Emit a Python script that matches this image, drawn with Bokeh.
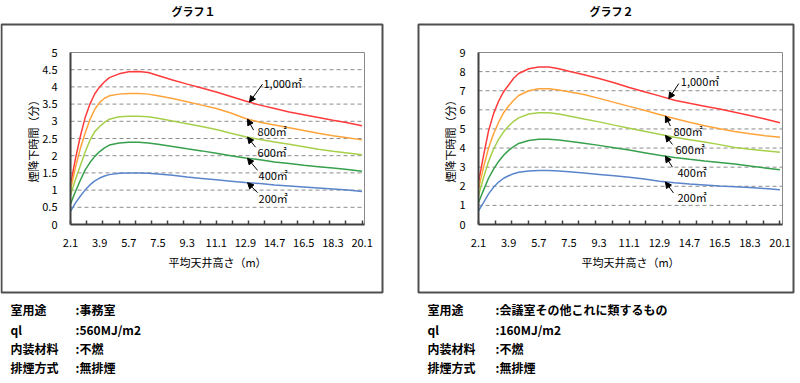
import numpy as np
from bokeh.plotting import figure
from bokeh.models import (Range1d, FixedTicker, CustomJSTickFormatter, Label, Arrow,
                          NormalHead, BoxAnnotation, ColumnDataSource, LinearAxis)
from bokeh.layouts import row
from bokeh.embed import file_html
from bokeh.resources import INLINE

# ---------------- data ----------------
heights = [2.1, 2.4, 2.7, 3.0, 3.3, 3.6, 3.9, 4.2, 4.5, 5.1, 5.7, 6.3, 6.9, 7.5,
           8.4, 9.3, 10.2, 11.1, 12.0, 12.9, 13.8, 14.7, 15.6, 16.5, 17.4, 18.3, 19.2, 20.1]

area_labels = ["1,000㎡", "800㎡", "600㎡", "400㎡", "200㎡"]
line_colors = ["#ff3b3b", "#ffa33a", "#a5d04a", "#37a04c", "#5a85cc"]

# Graph 1 (office, 560MJ/m2)
g1_1000 = [1.15, 1.9, 2.55, 3.1, 3.5, 3.8, 4.0, 4.15, 4.27, 4.38, 4.44, 4.45, 4.42, 4.33,
           4.2, 4.08, 3.97, 3.85, 3.72, 3.59, 3.47, 3.37, 3.27, 3.19, 3.11, 3.03, 2.96, 2.87]
g1_800 = [1.0, 1.65, 2.2, 2.65, 3.05, 3.35, 3.55, 3.67, 3.74, 3.79, 3.81, 3.81, 3.79, 3.74,
          3.66, 3.57, 3.47, 3.37, 3.24, 3.08, 2.97, 2.89, 2.81, 2.73, 2.65, 2.58, 2.52, 2.46]
g1_600 = [0.85, 1.3, 1.7, 2.1, 2.45, 2.7, 2.85, 2.97, 3.06, 3.13, 3.15, 3.15, 3.13, 3.09,
          3.01, 2.93, 2.85, 2.76, 2.65, 2.55, 2.47, 2.40, 2.33, 2.26, 2.19, 2.13, 2.08, 2.03]
g1_400 = [0.6, 0.95, 1.28, 1.58, 1.8, 1.98, 2.12, 2.23, 2.31, 2.37, 2.39, 2.39, 2.37, 2.33,
          2.27, 2.2, 2.14, 2.07, 2.0, 1.93, 1.88, 1.82, 1.77, 1.72, 1.68, 1.64, 1.6, 1.55]
g1_200 = [0.38, 0.62, 0.82, 1.0, 1.15, 1.27, 1.35, 1.41, 1.45, 1.49, 1.5, 1.5, 1.49, 1.47,
          1.43, 1.38, 1.34, 1.3, 1.26, 1.22, 1.19, 1.15, 1.12, 1.09, 1.06, 1.03, 1.0, 0.96]

# Graph 2 (meeting room, 160MJ/m2)
g2_1000 = [2.2, 3.6, 4.9, 5.8, 6.45, 6.95, 7.3, 7.65, 7.9, 8.15, 8.24, 8.24, 8.15, 8.02,
           7.84, 7.64, 7.42, 7.17, 6.95, 6.73, 6.5, 6.34, 6.19, 6.04, 5.87, 5.7, 5.52, 5.32]
g2_800 = [1.85, 3.0, 4.0, 4.75, 5.35, 5.85, 6.2, 6.5, 6.75, 7.0, 7.1, 7.1, 7.04, 6.95,
          6.8, 6.6, 6.39, 6.18, 5.98, 5.76, 5.55, 5.35, 5.17, 5.01, 4.87, 4.75, 4.65, 4.56]
g2_600 = [1.5, 2.45, 3.3, 3.95, 4.45, 4.85, 5.15, 5.4, 5.58, 5.78, 5.85, 5.85, 5.78, 5.68,
          5.52, 5.37, 5.2, 5.04, 4.88, 4.72, 4.57, 4.44, 4.32, 4.18, 4.03, 3.94, 3.86, 3.78]
g2_400 = [1.15, 1.8, 2.42, 2.9, 3.3, 3.62, 3.88, 4.08, 4.24, 4.4, 4.46, 4.46, 4.42, 4.35,
          4.25, 4.14, 4.02, 3.9, 3.76, 3.62, 3.51, 3.41, 3.32, 3.24, 3.16, 3.06, 2.96, 2.86]
g2_200 = [0.72, 1.15, 1.6, 1.95, 2.22, 2.42, 2.55, 2.66, 2.73, 2.8, 2.83, 2.83, 2.8, 2.76,
          2.69, 2.62, 2.55, 2.47, 2.38, 2.26, 2.18, 2.12, 2.07, 2.02, 1.98, 1.93, 1.88, 1.82]

x_label_ticks = [2.1, 3.9, 5.7, 7.5, 9.3, 11.1, 12.9, 14.7, 16.5, 18.3, 20.1]
x_mark_ticks = [2.1, 3.1, 4.1, 5.1, 6.1, 7.1, 8.1, 9.1, 10.1, 11.1, 12.1, 13.1, 14.1,
                15.1, 16.1, 17.1, 18.1, 19.1, 20.1]
y1_ticks = [0, 0.5, 1, 1.5, 2, 2.5, 3, 3.5, 4, 4.5, 5]
y2_ticks = [0, 1, 2, 3, 4, 5, 6, 7, 8, 9]

titles = ["グラフ１", "グラフ２"]
x_title = "平均天井高さ（m）"
y_title = "煙降下時間（分）"
info_keys = ["室用途", "ql", "内装材料", "排煙方式"]
info1_vals = [":事務室", ":560MJ/m2", ":不燃", ":無排煙"]
info2_vals = [":会議室その他これに類するもの", ":160MJ/m2", ":不燃", ":無排煙"]

# ---------------- layout constants (pixel coords of the page) ----------------
FONT = "Noto Sans CJK JP"
X_START, X_END = 2.1, 20.25
FRAME_TOP, FRAME_BOTTOM = 52, 224
FRAME_H = FRAME_BOTTOM - FRAME_TOP
FIG_W, FIG_H = 400, 383


def build(series, ymax, yticks, fig_left, plot_left, plot_w, title, title_cx,
          box, info_vals, info_kx, info_vx, tip_x, tail_off, text_off):
    xpp = (X_END - X_START) / plot_w
    ypp = ymax / FRAME_H

    def X(px):
        return X_START + (px - plot_left) * xpp

    def Y(py):
        return (FRAME_BOTTOM - py) * ypp

    p = figure(width=FIG_W, height=FIG_H, min_border=0,
               min_border_left=0, min_border_right=0, min_border_top=0, min_border_bottom=0,
               x_range=Range1d(X(fig_left), X(fig_left + FIG_W)),
               y_range=Range1d(Y(FIG_H), Y(0)),
               x_axis_type=None, y_axis_type=None,
               output_backend="svg", toolbar_location=None, title=None)
    p.background_fill_color = "white"
    p.border_fill_color = "white"
    p.outline_line_color = None
    p.xgrid.visible = False
    p.ygrid.visible = False

    # outer chart box
    bl, br, bt, bb = box
    p.add_layout(BoxAnnotation(left=X(bl), right=X(br), top=Y(bt), bottom=Y(bb),
                               fill_color=None, fill_alpha=0, line_color="#4f4f4f",
                               line_alpha=1.0, line_width=2, level="underlay"))
    # plot area border
    p.add_layout(BoxAnnotation(left=X_START, right=X_END, bottom=0, top=ymax,
                               fill_color=None, fill_alpha=0, line_color="#8a8a8a",
                               line_alpha=1.0, line_width=1, level="underlay"))

    # dashed horizontal gridlines at the inner y ticks
    grid_vals = yticks[1:-1]
    p.segment(x0=[X_START] * len(grid_vals), x1=[X_END] * len(grid_vals),
              y0=grid_vals, y1=grid_vals, line_color="#8c8c8c", line_width=1,
              line_dash="4 3")

    src = ColumnDataSource(dict(x=heights, **{f"s{i}": s for i, s in enumerate(series)}))
    for i, c in enumerate(line_colors):
        p.line("x", f"s{i}", source=src, line_color=c, line_width=1.5)

    # axes
    xaxis = LinearAxis(fixed_location=0, bounds=(X_START, X_END),
                       ticker=FixedTicker(ticks=x_label_ticks, minor_ticks=x_mark_ticks),
                       formatter=CustomJSTickFormatter(code="return tick.toFixed(1);"))
    yaxis = LinearAxis(fixed_location=X_START, bounds=(0, ymax),
                       ticker=FixedTicker(ticks=yticks),
                       formatter=CustomJSTickFormatter(
                           code="return String(Math.round(tick*10)/10);"))
    for ax in (xaxis, yaxis):
        ax.axis_line_color = "#404040"
        ax.axis_line_width = 2
        ax.major_tick_in = 0
        ax.major_tick_out = 0
        ax.major_label_text_font = FONT
        ax.major_label_text_font_size = "11px"
        ax.major_label_text_color = "black"
        ax.axis_label_text_font = FONT
        ax.axis_label_text_font_size = "11px"
        ax.axis_label_text_font_style = "normal"
        ax.axis_label_text_color = "black"
    xaxis.minor_tick_in = 4
    xaxis.minor_tick_out = 0
    xaxis.minor_tick_line_color = "#404040"
    xaxis.minor_tick_line_width = 1.5
    yaxis.minor_tick_line_color = None
    xaxis.major_label_standoff = 14
    yaxis.major_label_standoff = 13
    xaxis.axis_label = x_title
    yaxis.axis_label = y_title
    xaxis.axis_label_standoff = 4
    yaxis.axis_label_standoff = -2
    p.add_layout(xaxis, "below")
    p.add_layout(yaxis, "left")

    # title
    p.add_layout(Label(x=X(title_cx), y=Y(10), text=title, text_font=FONT,
                       text_font_size="11px", text_font_style="bold",
                       text_align="center", text_baseline="middle", text_color="black"))

    # area annotations with arrows
    for i, s in enumerate(series):
        tx = tip_x[i]
        ty = float(np.interp(tx, heights, s))
        ax_, ay_ = tail_off[i]
        lx, ly = text_off[i]
        p.add_layout(Arrow(x_start=tx + ax_ * xpp, y_start=ty - ay_ * ypp,
                           x_end=tx, y_end=ty, line_color="black", line_width=1,
                           end=NormalHead(size=6, line_color="black", fill_color="black",
                                          line_width=1)))
        p.add_layout(Label(x=tx + lx * xpp, y=ty - ly * ypp, text=area_labels[i],
                           text_font=FONT, text_font_size="11px", text_align="left",
                           text_baseline="middle", text_color="black"))

    # info text under the chart
    rows_y = [309, 329, 348, 367]
    for k, v, ry in zip(info_keys, info_vals, rows_y):
        p.add_layout(Label(x=X(info_kx), y=Y(ry), text=k, text_font=FONT,
                           text_font_size="12px", text_font_style="bold",
                           text_align="left", text_baseline="middle", text_color="black"))
        p.add_layout(Label(x=X(info_vx), y=Y(ry), text=v, text_font=FONT,
                           text_font_size="12px", text_font_style="bold",
                           text_align="left", text_baseline="middle", text_color="black"))
    return p


p1 = build([g1_1000, g1_800, g1_600, g1_400, g1_200], 5, y1_ticks,
           fig_left=0, plot_left=70, plot_w=294, title=titles[0], title_cx=193,
           box=(1, 382, 24, 292), info_vals=info1_vals, info_kx=10, info_vx=75,
           tip_x=[13.15, 13.03, 13.03, 13.03, 13.03],
           tail_off=[(13, -18), (6, 11), (8, 10), (10, 12), (10, 10)],
           text_off=[(14, -19), (10, 12), (10, 15), (11, 17), (11, 15)])

p2 = build([g2_1000, g2_800, g2_600, g2_400, g2_200], 9, y2_ticks,
           fig_left=400, plot_left=478, plot_w=304, title=titles[1], title_cx=611,
           box=(418, 793, 24, 292), info_vals=info2_vals, info_kx=427, info_vx=495,
           tip_x=[13.46, 13.26, 13.26, 13.26, 13.26],
           tail_off=[(10, -15), (5, 10), (7, 9), (7, 11), (8, 11)],
           text_off=[(12, -18), (8, 15), (10, 14), (12, 16), (12, 15)])

layout = row(p1, p2)
open("out.html", "w").write(file_html(layout, INLINE))
